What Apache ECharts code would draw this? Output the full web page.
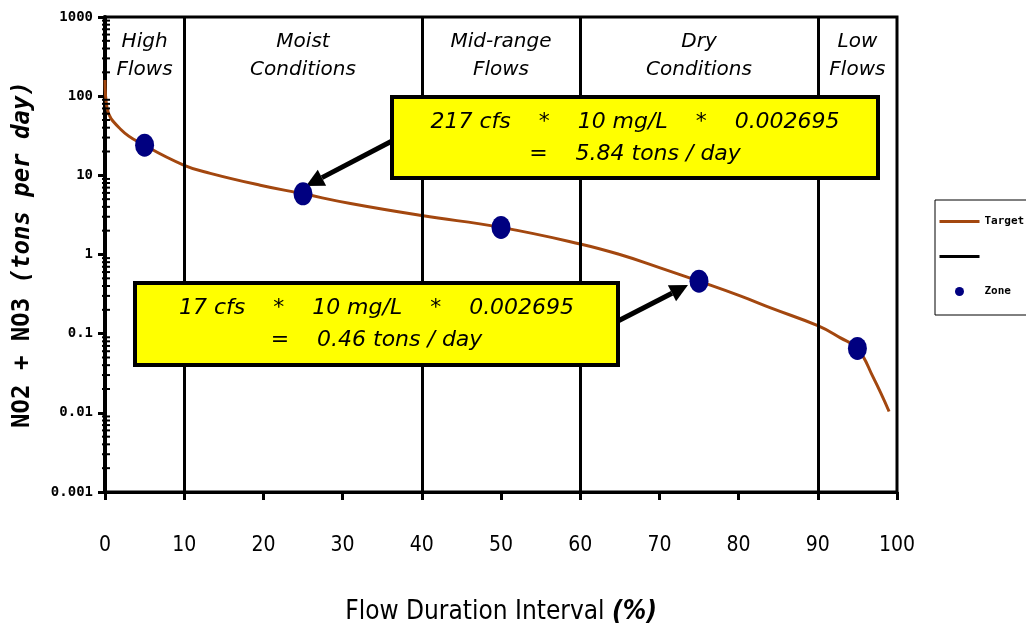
<!DOCTYPE html>
<html><head><meta charset="utf-8">
<script src="https://cdn.jsdelivr.net/npm/echarts@6/dist/echarts.min.js"></script>
<style>html,body{margin:0;padding:0;background:#fff}#c{width:1026px;height:631px}</style>
</head><body><div id="c"></div>
<script>
// ---- data ----
const flowX      = [0, 0.25, 2, 5, 10, 13.3, 19.6, 25, 31, 40, 50, 60, 65, 70, 75, 80.2, 84.3, 90, 92.8, 95, 97, 99];
const targetLoad = [160, 72, 38, 24, 13.4, 10.6, 7.5, 5.84, 4.4, 3.1, 2.2, 1.36, 1.0, 0.684, 0.46, 0.30, 0.207, 0.126, 0.089, 0.065, 0.028, 0.0104];
const zoneX      = [5, 25, 50, 75, 95];
const zoneLoad   = [24, 5.84, 2.2, 0.46, 0.065];
const zoneBounds = [0, 10, 40, 60, 90, 100];
const zoneNames  = ['High\nFlows', 'Moist\nConditions', 'Mid-range\nFlows', 'Dry\nConditions', 'Low\nFlows'];
const yTickLabels = ['0.001', '0.01', '0.1', '1', '10', '100', '1000'];
const minorTickValues = [
  0.002,0.003,0.004,0.005,0.006,0.007,0.008,0.009,
  0.02,0.03,0.04,0.05,0.06,0.07,0.08,0.09,
  0.2,0.3,0.4,0.5,0.6,0.7,0.8,0.9,
  2,3,4,5,6,7,8,9,
  20,30,40,50,60,70,80,90,
  200,300,400,500,600,700,800,900];
const note1 = ['217 cfs    *    10 mg/L    *    0.002695', '=    5.84 tons / day'];
const note2 = ['17 cfs    *    10 mg/L    *    0.002695', '=    0.46 tons / day'];

// ---- chart ----
const chart = echarts.init(document.getElementById('c'), null, {renderer: 'canvas'});
const narrow = "'Liberation Sans Narrow','DejaVu Sans Condensed','Liberation Sans',sans-serif";
const mono = "'DejaVu Sans Mono',monospace";
const ital = "'DejaVu Sans',sans-serif";

function arrow(x1, y1, x2, y2) {
  const a = Math.atan2(y2 - y1, x2 - x1), L = 18, W = 9;
  const bx = x2 - L * Math.cos(a), by = y2 - L * Math.sin(a);
  const nx = -Math.sin(a), ny = Math.cos(a);
  return [
    {type: 'line', shape: {x1, y1, x2: bx, y2: by}, style: {stroke: '#000', lineWidth: 5}},
    {type: 'polygon', shape: {points: [[x2, y2], [bx + nx * W, by + ny * W], [bx - nx * W, by - ny * W]]}, style: {fill: '#000'}}
  ];
}
function noteBox(x, y, w, h, lines) {
  return [
    {type: 'rect', shape: {x, y, width: w, height: h}, style: {fill: '#ffff00', stroke: '#000', lineWidth: 4}, z: 10},
    {type: 'text', x: x + w / 2, y: y + 25, z: 11, style: {text: lines[0], textAlign: 'center', textVerticalAlign: 'middle', font: 'italic 22px ' + ital, fill: '#000'}},
    {type: 'text', x: x + w / 2, y: y + 57, z: 11, style: {text: lines[1], textAlign: 'center', textVerticalAlign: 'middle', font: 'italic 22px ' + ital, fill: '#000'}}
  ];
}

const zoneAreas = zoneNames.map((n, i) => [{xAxis: zoneBounds[i], name: n}, {xAxis: zoneBounds[i + 1]}]);
const zoneLines = zoneBounds.slice(1, -1).map(v => ({xAxis: v}));

chart.setOption({
  animation: false,
  backgroundColor: '#fff',
  grid: {left: 105, right: 129, top: 17, bottom: 139, show: true, borderColor: '#000', borderWidth: 3},
  legend: {
    left: 935, top: 200, orient: 'vertical',
    data: [
      {name: 'Target', itemStyle: {opacity: 0}, lineStyle: {width: 3}},
      {name: ' ', itemStyle: {opacity: 0}, lineStyle: {width: 3}},
      {name: 'Zone'}
    ],
    itemWidth: 40, itemHeight: 9, itemGap: 24,
    padding: [16, 10, 18, 3],
    borderColor: '#000', borderWidth: 1,
    textStyle: {fontFamily: mono, fontWeight: 'bold', fontSize: 11, color: '#000'}
  },
  xAxis: {
    type: 'value', min: 0, max: 100, interval: 10,
    name: '{a|Flow Duration Interval }{b|(%)}', nameLocation: 'middle', nameGap: 107,
    nameTextStyle: {rich: {
      a: {fontFamily: narrow, fontSize: 26, color: '#000'},
      b: {fontFamily: narrow, fontSize: 26, fontStyle: 'italic', fontWeight: 'bold', color: '#000'}
    }},
    axisLine: {lineStyle: {color: '#000', width: 3}},
    axisTick: {show: true, length: 8, lineStyle: {color: '#000', width: 3}},
    axisLabel: {margin: 43, fontFamily: narrow, fontSize: 21, color: '#000'},
    splitLine: {show: false}
  },
  yAxis: {
    type: 'log', logBase: 10, min: 0.001, max: 1000,
    name: '{a|NO2 + NO3 }{b|(tons per day)}', nameLocation: 'middle', nameGap: 70,
    nameTextStyle: {rich: {
      a: {fontFamily: mono, fontSize: 24, fontWeight: 'bold', color: '#000'},
      b: {fontFamily: mono, fontSize: 24, fontWeight: 'bold', fontStyle: 'italic', color: '#000'}
    }},
    axisLine: {lineStyle: {color: '#000', width: 4}},
    axisTick: {show: true, length: 7, lineStyle: {color: '#000', width: 3}},
    axisLabel: {margin: 12, fontFamily: mono, fontWeight: 'bold', fontSize: 14, color: '#000',
      formatter: v => yTickLabels[Math.round(Math.log10(v)) + 3]},
    splitLine: {show: false}
  },
  series: [
    {
      name: 'Target', type: 'line', smooth: 0.45, symbol: 'none',
      data: flowX.map((x, i) => [x, targetLoad[i]]),
      color: '#a3470f', lineStyle: {color: '#a3470f', width: 3}, z: 3,
      markLine: {silent: true, symbol: 'none', label: {show: false},
        lineStyle: {color: '#000', width: 3, type: 'solid'}, data: zoneLines},
      markArea: {silent: true, itemStyle: {color: 'rgba(0,0,0,0)'},
        label: {show: true, position: 'insideTop', distance: 11, fontFamily: ital, fontStyle: 'italic',
          fontSize: 20, lineHeight: 28, color: '#000', align: 'center'},
        data: zoneAreas}
    },
    {name: ' ', type: 'line', data: [], symbol: 'none', color: '#000', lineStyle: {color: '#000', width: 3}},
    {
      name: 'Zone', type: 'scatter', symbol: 'circle', symbolSize: [19, 23],
      data: zoneX.map((x, i) => [x, zoneLoad[i]]),
      color: '#000080', itemStyle: {color: '#000080', opacity: 1}, z: 5
    },
    {
      type: 'custom', silent: true, clip: false, z: 6,
      data: minorTickValues.map(v => [0, v]),
      renderItem: (params, api) => {
        const p = api.coord([api.value(0), api.value(1)]);
        return {type: 'line', shape: {x1: p[0] - 3, y1: p[1], x2: p[0] + 5, y2: p[1]},
          style: {stroke: '#000', lineWidth: 2}};
      }
    }
  ],
  graphic: [
    ...arrow(392, 141, 306, 186),
    ...arrow(618, 321, 688, 285),
    ...noteBox(392, 97, 486, 81, note1),
    ...noteBox(135, 283, 483, 82, note2)
  ]
});
</script>
</body></html>
